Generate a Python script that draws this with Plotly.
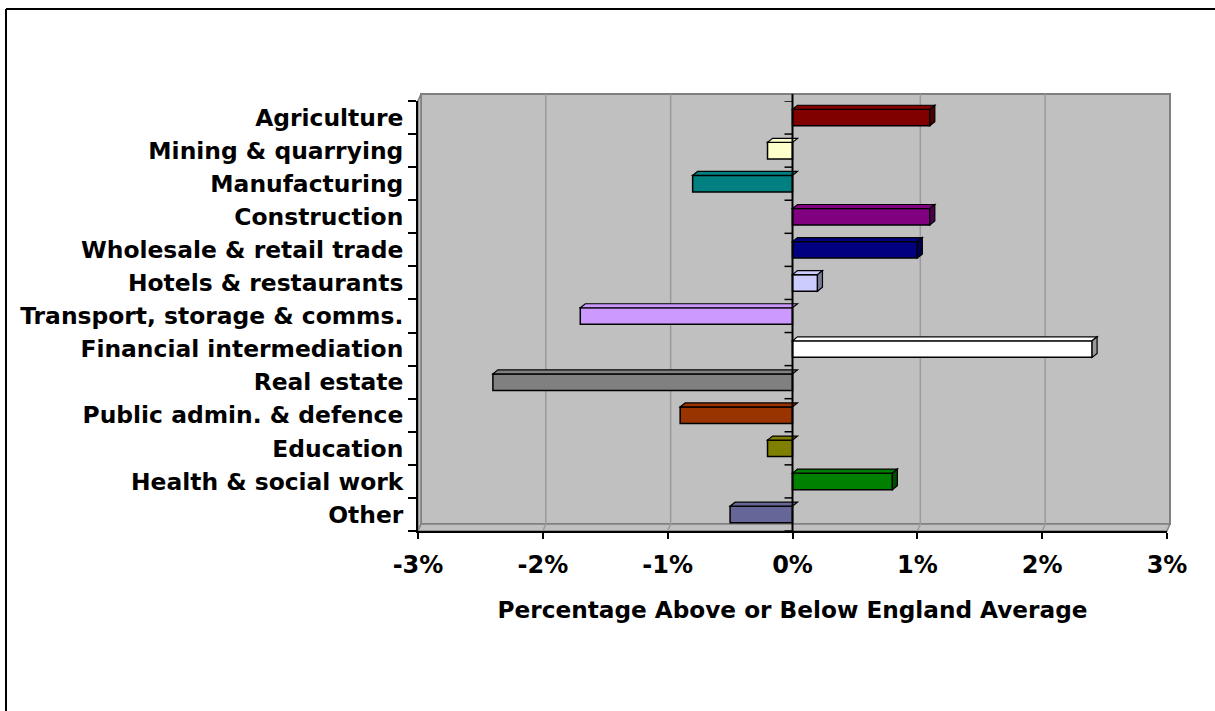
import plotly.graph_objects as go

categories = ["Agriculture", "Mining & quarrying", "Manufacturing", "Construction",
              "Wholesale & retail trade", "Hotels & restaurants",
              "Transport, storage & comms.", "Financial intermediation", "Real estate",
              "Public admin. & defence", "Education", "Health & social work", "Other"]
values = [1.1, -0.2, -0.8, 1.1, 1.0, 0.2, -1.7, 2.4, -2.4, -0.9, -0.2, 0.8, -0.5]
colors = ["#800000", "#FFFFCC", "#008080", "#800080", "#000080", "#CCCCFF",
          "#CC99FF", "#FFFFFF", "#808080", "#993300", "#808000", "#008000", "#666699"]
x_ticks = [-3, -2, -1, 0, 1, 2, 3]
x_tick_labels = ["-3%", "-2%", "-1%", "0%", "1%", "2%", "3%"]

W, H = 1215, 711
ML, MR, MT, MB = 418, 48, 101, 180
plot_w = W - ML - MR
plot_h = H - MT - MB
xmin, xmax = x_ticks[0], x_ticks[-1]
n = len(categories)
px_per_x = plot_w / (xmax - xmin)
px_per_y = plot_h / n

# 3D depth offsets
WALL_DXP, WALL_DYP = 3 / plot_w, 7 / plot_h          # paper units
BAR_DX, BAR_DY = 5 / px_per_x, 4 / px_per_y          # data units
BAR_W = 0.5
FONT = "DejaVu Sans"
WALL = "#C0C0C0"
EDGE = "#808080"


def xp(v):
    return (v - xmin) / (xmax - xmin)


def darker(hexc, f=0.6):
    h = hexc.lstrip("#")
    r, g, b = (int(h[i:i + 2], 16) for i in (0, 2, 4))
    return "rgb(%d,%d,%d)" % (r * f, g * f, b * f)


def poly(pts):
    return "M " + " L ".join("%f,%f" % p for p in pts) + " Z"


idx = list(range(n))
top = -0.5
bot = n - 0.5

fig = go.Figure()
fig.add_trace(go.Bar(
    x=values, y=idx, orientation="h", width=BAR_W,
    marker=dict(color=colors, line=dict(color="black", width=1.5)),
    hoverinfo="x+text", text=categories, textposition="none",
))

shapes = []
dx, dy = WALL_DXP, WALL_DYP
# back wall
shapes.append(dict(type="rect", xref="paper", yref="paper", layer="below",
                   x0=dx, x1=1 + dx, y0=dy, y1=1 + dy,
                   fillcolor=WALL, line=dict(color=EDGE, width=2)))
# left side wall
shapes.append(dict(type="path", xref="paper", yref="paper", layer="below",
                   path=poly([(0, 0), (dx, dy), (dx, 1 + dy), (0, 1)]),
                   fillcolor=WALL, line=dict(color=EDGE, width=1.5)))
# floor
shapes.append(dict(type="path", xref="paper", yref="paper", layer="below",
                   path=poly([(0, 0), (1, 0), (1 + dx, dy), (dx, dy)]),
                   fillcolor=WALL, line=dict(color=EDGE, width=1.5)))
# gridlines on back wall and floor
for t in x_ticks[1:-1]:
    if t == 0:
        continue
    shapes.append(dict(type="path", xref="paper", yref="paper", layer="below",
                       path="M %f,%f L %f,%f L %f,%f" % (xp(t), 0, xp(t) + dx, dy, xp(t) + dx, 1 + dy),
                       line=dict(color="#9A9A9A", width=1.5)))

# 3D faces of bars
for i, (v, c) in enumerate(zip(values, colors)):
    x0, x1 = min(0, v), max(0, v)
    yt = i - BAR_W / 2
    yb = i + BAR_W / 2
    shapes.append(dict(type="path", xref="x", yref="y", layer="above",
                       path=poly([(x0, yt), (x1, yt), (x1 + BAR_DX, yt - BAR_DY), (x0 + BAR_DX, yt - BAR_DY)]),
                       fillcolor=c, line=dict(color="black", width=1.2)))
    if v > 0:
        shapes.append(dict(type="path", xref="x", yref="y", layer="above",
                           path=poly([(x1, yt), (x1 + BAR_DX, yt - BAR_DY), (x1 + BAR_DX, yb - BAR_DY), (x1, yb)]),
                           fillcolor=darker(c), line=dict(color="black", width=1.2)))

# zero line (category axis crossing)
shapes.append(dict(type="line", xref="paper", yref="paper", layer="above",
                   x0=xp(0), x1=xp(0), y0=0, y1=1 + dy,
                   line=dict(color="black", width=2)))
# ticks on the zero line at category boundaries
for k in range(n + 1):
    b = k - 0.5
    shapes.append(dict(type="line", xref="x", yref="y", layer="above",
                       x0=-8 / px_per_x, x1=0, y0=b, y1=b,
                       line=dict(color="black", width=1.5)))

# outer chart border (left and top edges visible)
shapes.append(dict(type="line", xref="paper", yref="paper",
                   x0=(6 - ML) / plot_w, x1=(W + 20 - ML) / plot_w,
                   y0=(MT + plot_h - 9) / plot_h, y1=(MT + plot_h - 9) / plot_h,
                   line=dict(color="black", width=2)))
shapes.append(dict(type="line", xref="paper", yref="paper",
                   x0=(6 - ML) / plot_w, x1=(6 - ML) / plot_w,
                   y0=(MT + plot_h - 9) / plot_h, y1=-(MB + 20) / plot_h,
                   line=dict(color="black", width=2)))

fig.update_layout(
    width=W, height=H,
    margin=dict(l=ML, r=MR, t=MT, b=MB, pad=0),
    paper_bgcolor="white", plot_bgcolor="rgba(0,0,0,0)",
    showlegend=False, bargap=0.5,
    font=dict(family=FONT, color="black"),
    shapes=shapes,
    xaxis=dict(range=[xmin, xmax], tickvals=x_ticks, ticktext=x_tick_labels,
               showgrid=False, zeroline=False, showline=True, linecolor="black", linewidth=2,
               ticks="outside", ticklen=6, tickwidth=1.5, tickcolor="black",
               tickfont=dict(family=FONT, size=24, color="black", weight="bold"),
               ticklabelstandoff=5,
               title=dict(text="Percentage Above or Below England Average",
                          font=dict(family=FONT, size=23.2, color="black", weight="bold"),
                          standoff=24)),
    yaxis=dict(range=[bot, top], tickvals=idx, ticktext=categories,
               showgrid=False, zeroline=False, showline=True, linecolor="black", linewidth=2,
               ticks="outside", ticklen=8, tickcolor="rgba(0,0,0,0)",
               minor=dict(tick0=0.5, dtick=1, ticks="outside", ticklen=8, tickwidth=1.5,
                          tickcolor="black", showgrid=False),
               tickfont=dict(family=FONT, size=23.4, color="black", weight="bold"),
               ticklabelstandoff=0),
)

fig.write_html("out.html")
